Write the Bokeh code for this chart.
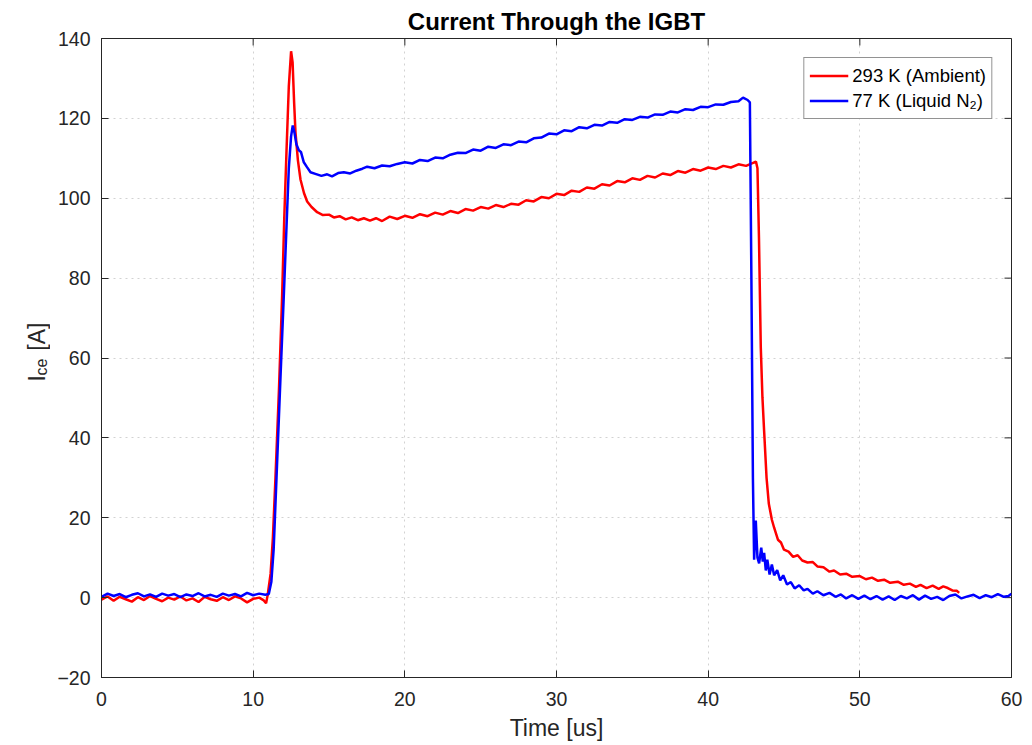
import math
from bokeh.plotting import figure
from bokeh.layouts import row
from bokeh.models import Range1d, FixedTicker
from bokeh.core.properties import value
from bokeh.embed import file_html
from bokeh.resources import INLINE

# ---------------- data ----------------
TITLE = "Current Through the IGBT"
X_LABEL = "Time [us]"
Y_LABEL_MAIN = "I"
Y_LABEL_SUB = "ce"
Y_LABEL_UNIT = "[A]"
X_TICKS = [0, 10, 20, 30, 40, 50, 60]
Y_TICKS = [-20, 0, 20, 40, 60, 80, 100, 120, 140]
RED_NAME = "293 K (Ambient)"
BLUE_NAME = "77 K (Liquid N\u2082)"

RED_T = [0.0, 0.4, 0.8, 1.2, 1.6, 2.0, 2.4, 2.8, 3.2, 3.6, 4.0, 4.4, 4.8, 5.2, 5.6, 6.0,
         6.4, 6.8, 7.2, 7.6, 8.0, 8.4, 8.8, 9.2, 9.6, 10.0, 10.4, 10.7, 10.85, 10.95,
         11.15, 11.3, 11.47, 11.7, 11.91, 12.05, 12.2, 12.35, 12.5, 12.6, 12.7, 12.79,
         12.95, 13.12, 13.35, 13.56, 13.85, 14.22, 14.6, 15.0, 15.32, 15.7, 16.1, 16.5,
         16.9, 17.3, 17.7, 18.1,
         18.5, 19.0, 19.5, 20.0, 20.5, 21.0, 21.5, 22.0, 22.5, 23.0, 23.5, 24.0, 24.5,
         25.0, 25.5, 26.0, 26.5, 27.0, 27.5, 28.0, 28.5, 29.0, 29.5, 30.0, 30.5, 31.0,
         31.5, 32.0, 32.5, 33.0, 33.5, 34.0, 34.5, 35.0, 35.5, 36.0, 36.5, 37.0, 37.5,
         38.0, 38.5, 39.0, 39.5, 40.0, 40.5, 41.0, 41.5, 42.0, 42.5, 43.0, 43.15,
         43.25, 43.35, 43.47, 43.58, 43.69, 43.85, 44.0, 44.2, 44.35, 44.6, 44.8,
         45.0, 45.3, 45.6, 45.9, 46.2, 46.55, 46.9, 47.2, 47.6, 48.0, 48.3, 48.7,
         49.1, 49.5, 50.0, 50.4, 50.8, 51.2, 51.6, 52.0, 52.5, 52.9, 53.3, 53.7,
         54.0, 54.4, 54.8, 55.2, 55.5, 55.8, 56.1, 56.4, 56.55]
RED_I = [-0.5, 0.3, -0.8, 0.2, -0.4, -1.0, 0.1, -0.6, 0.4, -0.3, -0.9, 0.0, -0.5, 0.3, -0.7, -0.2,
         -1.1, 0.2, -0.4, -0.8, 0.1, -0.6, 0.3, -0.2, -1.2, -0.3, 0.0, -0.7, -1.4, 0.5,
         6.0, 15.0, 30.0, 52.0, 75.6, 95.0, 112.0, 128.0, 136.8, 134.0, 124.0, 116.5,
         109.5, 104.7, 101.3, 99.2, 97.8, 96.5, 95.8, 95.9, 95.2, 95.5, 94.7, 95.2,
         94.5, 95.0, 94.4, 95.0,
         94.3, 95.4, 94.8, 95.6, 95.1, 96.0, 95.5, 96.4, 95.9, 96.8, 96.3, 97.3, 96.9,
         97.8, 97.4, 98.3, 97.8, 98.6, 98.4, 99.5, 99.2, 100.3, 100.0, 101.1, 100.8, 101.9,
         101.6, 102.7, 102.4, 103.5, 103.2, 104.3, 104.0, 105.0, 104.6, 105.6, 105.2, 106.2, 105.8,
         106.8, 106.4, 107.3, 106.9, 107.7, 107.3, 108.1, 107.7, 108.5, 108.1, 108.9, 109.2,
         107.5, 90.0, 62.6, 50.0, 41.7, 30.0, 23.5, 19.5, 17.5, 14.5, 13.8,
         12.0, 11.5, 10.2, 10.6, 9.3, 8.8, 8.9, 7.8, 7.6, 6.5, 6.8, 5.8,
         6.0, 5.2, 5.4, 4.6, 5.0, 4.2, 4.5, 3.7, 4.0, 3.2, 3.5, 2.7,
         3.2, 2.4, 3.0, 2.2, 2.8, 2.4, 1.8, 1.7, 1.2]

BLUE_T = [0.0, 0.4, 0.8, 1.2, 1.6, 2.0, 2.4, 2.8, 3.2, 3.6, 4.0, 4.4, 4.8, 5.2, 5.6, 6.0,
          6.4, 6.8, 7.2, 7.6, 8.0, 8.4, 8.8, 9.2, 9.6, 10.0, 10.4, 10.8, 11.03, 11.2,
          11.35, 11.54, 11.8, 12.02, 12.2, 12.35, 12.5, 12.61, 12.72, 12.85, 13.01, 13.15,
          13.34, 13.55, 13.78, 14.1, 14.5, 14.88, 15.2, 15.6, 15.98, 16.4, 16.8, 17.2,
          17.52, 18.0, 18.5, 19.0, 19.5, 20.0, 20.5, 21.0, 21.5, 22.0, 22.5, 23.0, 23.5,
          24.0, 24.5, 25.0, 25.5, 26.0, 26.5, 27.0, 27.5, 28.0, 28.5, 29.0, 29.5, 30.0,
          30.5, 31.0, 31.5, 32.0, 32.5, 33.0, 33.5, 34.0, 34.5, 35.0, 35.5, 36.0, 36.5,
          37.0, 37.5, 38.0, 38.5, 39.0, 39.5, 40.0, 40.5, 41.0, 41.5, 42.0, 42.3, 42.6,
          42.75, 42.85, 42.95, 43.03, 43.14, 43.25, 43.36, 43.5, 43.6, 43.69, 43.8, 43.9,
          44.05, 44.2, 44.35, 44.55, 44.75, 44.95, 45.2, 45.45, 45.7, 46.0, 46.3, 46.55,
          46.9, 47.2, 47.6, 48.0, 48.4, 48.75, 49.1, 49.5, 49.9, 50.3, 50.7, 51.1, 51.5,
          51.9, 52.3, 52.7, 53.1, 53.5, 53.9, 54.3, 54.7, 55.1, 55.5, 55.9, 56.3, 56.7,
          57.1, 57.5, 57.9, 58.3, 58.7, 59.1, 59.5, 59.8, 60.0]
BLUE_I = [0.2, 1.0, 0.4, 0.9, 0.1, 0.7, 1.1, 0.3, 0.8, 0.2, 1.0, 0.5, 0.9, 0.1, 0.8, 0.4,
          1.1, 0.3, 0.7, 0.2, 1.0, 0.5, 0.9, 0.3, 1.2, 0.6, 1.0, 0.7, 0.9, 4.0,
          12.0, 30.0, 55.0, 75.6, 93.0, 107.5, 115.5, 118.2, 116.5, 113.5, 112.0, 111.6,
          109.0, 107.8, 106.5, 106.1, 105.6, 106.0, 105.5, 106.3, 106.5, 106.2, 106.9, 107.4,
          107.9, 107.5, 108.2, 108.0, 108.6, 109.0, 108.7, 109.6, 109.3, 110.2, 110.0, 110.9, 111.4,
          111.3, 112.2, 111.9, 112.9, 112.6, 113.5, 113.3, 114.2, 114.0, 115.0, 115.2, 116.2, 116.0,
          117.0, 116.8, 117.8, 117.5, 118.4, 118.2, 119.1, 118.9, 119.8, 119.6, 120.4, 120.2, 121.0,
          120.9, 121.7, 121.5, 122.3, 122.1, 122.9, 122.8, 123.5, 123.4, 124.1, 124.3, 125.2, 124.6,
          124.0, 80.0, 30.0, 9.5, 19.3, 10.0, 8.6, 12.5, 9.0, 11.2, 6.8, 9.5,
          5.8, 8.3, 5.6, 6.9, 4.3, 5.6, 3.3, 3.9, 2.3, 3.1, 1.8, 2.2,
          1.0, 1.6, 0.6, 1.2, 0.2, 0.8, -0.2, 0.6, -0.3, 0.5, -0.4, 0.4, -0.5,
          0.3, -0.6, 0.4, -0.2, 0.6, -0.5, 0.5, -0.3, 0.2, -0.6, 0.4, 0.8, -0.2,
          0.3, 0.7, -0.1, 0.6, 0.1, 0.9, 0.2, 0.4, 1.0]

# ---------------- styling ----------------
FONT = "Liberation Sans"
INK = "#262626"
H = 745
LABEL_W = 50

# ---------------- main figure ----------------
p = figure(width=1024 - LABEL_W, height=H, output_backend="svg", toolbar_location=None,
           x_range=Range1d(0, 60), y_range=Range1d(-20, 140),
           min_border_left=101 - LABEL_W, min_border_right=13, min_border_top=38,
           min_border_bottom=68, background_fill_color="white",
           border_fill_color="white")
p.outline_line_color = INK
p.outline_line_width = 1

p.title.text = TITLE
p.title.align = "center"
p.title.text_font = FONT
p.title.text_font_size = "24px"
p.title.text_font_style = "bold"
p.title.text_color = "black"
p.title.standoff = 7

p.xaxis.ticker = FixedTicker(ticks=X_TICKS)
p.yaxis.ticker = FixedTicker(ticks=Y_TICKS)
p.xaxis.axis_label = X_LABEL
p.xaxis.axis_label_text_font = FONT
p.xaxis.axis_label_text_font_size = "23px"
p.xaxis.axis_label_text_font_style = "normal"
p.xaxis.axis_label_text_color = INK
p.xaxis.axis_label_standoff = 6
for ax in (p.xaxis, p.yaxis):
    ax.major_tick_in = 7
    ax.major_tick_out = 0
    ax.minor_tick_in = 0
    ax.minor_tick_out = 0
    ax.axis_line_color = INK
    ax.major_tick_line_color = INK
    ax.major_label_text_font = FONT
    ax.major_label_text_font_size = "19.5px"
    ax.major_label_text_color = INK
p.xaxis.major_label_standoff = 14
p.yaxis.major_label_standoff = 11

p.grid.grid_line_color = "#d2d2d2"
p.grid.grid_line_dash = "2 4"
p.grid.grid_line_width = 1

# tick marks on the top and right edges of the box (MATLAB "box on")
TICK_X_LEN = 7 * 60 / 910.0
TICK_Y_LEN = 7 * 160 / 639.0
p.segment(x0=X_TICKS, x1=X_TICKS, y0=[140] * len(X_TICKS),
          y1=[140 - TICK_Y_LEN] * len(X_TICKS), line_color=INK, line_width=1)
p.segment(x0=[60] * len(Y_TICKS), x1=[60 - TICK_X_LEN] * len(Y_TICKS),
          y0=Y_TICKS, y1=Y_TICKS, line_color=INK, line_width=1)

p.line(RED_T, RED_I, line_color="#ff0000", line_width=2.5, legend_label=RED_NAME)
p.line(BLUE_T, BLUE_I, line_color="#0000ff", line_width=2.5, legend_label=BLUE_NAME)

lg = p.legend[0]
lg.location = "top_right"
lg.margin = 19
lg.padding = 5
lg.spacing = 0
lg.label_height = 25
lg.glyph_height = 25
lg.glyph_width = 39
lg.label_standoff = 4
lg.label_text_font = FONT
lg.label_text_font_size = "18.5px"
lg.label_text_color = "black"
lg.border_line_color = INK
lg.border_line_width = 1
lg.background_fill_alpha = 1.0

# ---------------- y-axis label strip (I_ce [A], with a real subscript) ----------------
q = figure(width=LABEL_W, height=H, output_backend="svg", toolbar_location=None,
           x_range=Range1d(0, LABEL_W), y_range=Range1d(0, H),
           x_axis_type=None, y_axis_type=None, min_border=0,
           background_fill_color="white", border_fill_color="white")
q.outline_line_color = None
q.grid.visible = False
ang = math.pi / 2
q.text(x=[36], y=[H - 400], text=[Y_LABEL_MAIN], angle=ang,
       text_font=value(FONT), text_font_size="23px", text_color=INK,
       text_align="left", text_baseline="alphabetic")
q.text(x=[41], y=[H - 393], text=[Y_LABEL_SUB], angle=ang,
       text_font=value(FONT), text_font_size="16px", text_color=INK,
       text_align="left", text_baseline="alphabetic")
q.text(x=[36], y=[H - 364], text=[Y_LABEL_UNIT], angle=ang,
       text_font=value(FONT), text_font_size="23px", text_color=INK,
       text_align="left", text_baseline="alphabetic")

layout = row(q, p)
open("out.html", "w").write(file_html(layout, INLINE))
